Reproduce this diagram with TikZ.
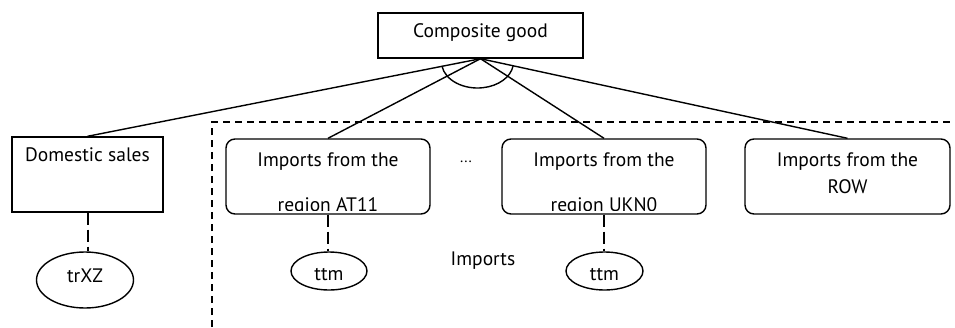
\documentclass[tikz,border=0pt]{standalone}
\usepackage{fontspec}
\setmainfont{PT Sans}
\usetikzlibrary{shapes.geometric}
\begin{document}
\begin{tikzpicture}[x=1pt,y=-1pt,
  lbl/.style={font=\fontsize{19.5}{23}\selectfont, inner sep=0pt, anchor=base},
  sqbox/.style={draw, line width=1.4pt, inner sep=0pt},
  rbox/.style={draw, line width=1.4pt, rounded corners=9pt, inner sep=0pt, minimum width=204pt, minimum height=75pt},
  oval/.style={draw, ellipse, line width=1.4pt, inner sep=0pt},
  conn/.style={line width=1.4pt},
  dlink/.style={line width=2pt, dash pattern=on 12pt off 5pt},
  frameline/.style={line width=1.4pt, dash pattern=on 7pt off 5pt}]
\useasboundingbox (0,0) rectangle (955,327);

% top box
\node[sqbox, minimum width=205pt, minimum height=45pt] (comp) at (480.5,35.5) {};
\node[lbl] (compt) at (480.5,37) {Composite good};
\coordinate (apex) at (comp.south);

% domestic
\node[sqbox, minimum width=151pt, minimum height=75pt] (dom) at (87.5,174.5) {};
\node[lbl] (domt) at (87.5,161.5) {Domestic sales};
\node[oval, minimum width=97pt, minimum height=56pt] (trxz) at (85,280) {};
\node[lbl] (trxzt) at (85,282) {trXZ};

% imports boxes
\node[rbox] (at11) at (328,176.5) {};
\begin{scope}
  \clip (at11.north west) rectangle ([yshift=4.5pt]at11.south east);
  \node[lbl] (at11a) at (328,166.5) {Imports from the};
  \node[lbl] (at11b) at (328,211) {region AT11};
\end{scope}
\node[rbox] (ukn0) at (604,176.5) {};
\begin{scope}
  \clip (ukn0.north west) rectangle ([yshift=4.5pt]ukn0.south east);
  \node[lbl] (ukn0a) at (604,166.5) {Imports from the};
  \node[lbl] (ukn0b) at (604,211) {region UKN0};
\end{scope}
\node[rbox, minimum width=205pt] (row) at (847.5,176.5) {};
\node[lbl] (rowa) at (847.5,166.5) {Imports from the};
\node[lbl] (rowb) at (847.5,193.5) {ROW};

\node[oval, minimum width=76pt, minimum height=38pt] (ttm1) at (329,271) {};
\node[lbl] (ttm1t) at (329,280) {ttm};
\node[oval, minimum width=77pt, minimum height=38pt] (ttm2) at (604.5,271) {};
\node[lbl] (ttm2t) at (604.5,280) {ttm};

\node[lbl, font=\fontsize{15}{17}\selectfont] (dots) at (466,162) {...};
\node[lbl] (imp) at (483,265.5) {Imports};

% connectors
\draw[conn] (apex) -- (dom.north);
\draw[conn] (apex) -- (at11.north);
\draw[conn] (apex) -- (ukn0.north);
\draw[conn] (apex) -- (row.north);
\draw[conn] (477.5,62) ++(171:36 and 26) arc[start angle=171, end angle=9, x radius=36, y radius=26];

\draw[dlink] (dom.south) -- (dom.south |- trxz.north);
\draw[dlink] (at11.south) -- (at11.south |- ttm1.north);
\draw[dlink] (ukn0.south) -- (ukn0.south |- ttm2.north);

% imports frame
\coordinate (fb) at (212,327);
\coordinate (ft) at (212,122);
\coordinate (fr) at (955,122);
\draw[frameline] (fb) -- (ft) -- (fr);
\end{tikzpicture}
\end{document}
